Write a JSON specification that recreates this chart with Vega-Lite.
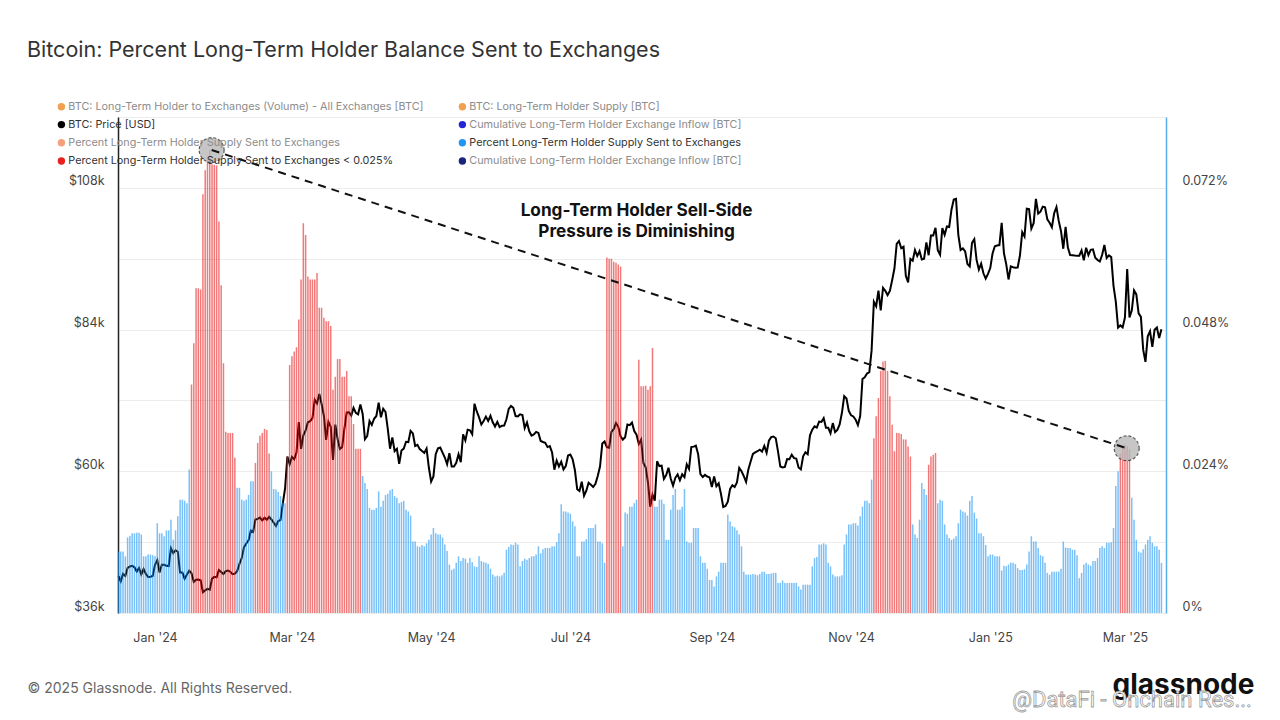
{
  "$schema": "https://vega.github.io/schema/vega-lite/v6.json",
  "width": 1048,
  "height": 496,
  "autosize": {"type": "none"},
  "padding": {"left": 118, "top": 117, "right": 114, "bottom": 107},
  "background": "white",
  "title": {
    "text": "Bitcoin: Percent Long-Term Holder Balance Sent to Exchanges",
    "anchor": "start",
    "frame": "group",
    "dx": -91,
    "offset": 40,
    "fontSize": 21.5,
    "fontWeight": "normal",
    "color": "#333333",
    "font": "Inter"
  },
  "config": {
    "view": {"stroke": null},
    "font": "Inter",
    "axis": {"labelFont": "Inter", "titleFont": "Inter"},
    "legend": {"labelFont": "Inter"}
  },
  "datasets": {
    "lth": [
      {"date":"2023-12-16","price":42240,"pct":0.0104,"red":0},
      {"date":"2023-12-17","price":41364,"pct":0.0104,"red":0},
      {"date":"2023-12-18","price":42623,"pct":0.0104,"red":0},
      {"date":"2023-12-19","price":42270,"pct":0.0096,"red":0},
      {"date":"2023-12-20","price":43652,"pct":0.0128,"red":0},
      {"date":"2023-12-21","price":43869,"pct":0.0131,"red":0},
      {"date":"2023-12-22","price":43997,"pct":0.0135,"red":0},
      {"date":"2023-12-23","price":43739,"pct":0.0135,"red":0},
      {"date":"2023-12-24","price":43016,"pct":0.0136,"red":0},
      {"date":"2023-12-25","price":43613,"pct":0.0136,"red":0},
      {"date":"2023-12-26","price":42520,"pct":0.0133,"red":0},
      {"date":"2023-12-27","price":43442,"pct":0.0096,"red":0},
      {"date":"2023-12-28","price":42627,"pct":0.0096,"red":0},
      {"date":"2023-12-29","price":42099,"pct":0.0099,"red":0},
      {"date":"2023-12-30","price":42156,"pct":0.0099,"red":0},
      {"date":"2023-12-31","price":42265,"pct":0.0098,"red":0},
      {"date":"2024-01-01","price":44167,"pct":0.0096,"red":0},
      {"date":"2024-01-02","price":44958,"pct":0.0152,"red":0},
      {"date":"2024-01-03","price":42848,"pct":0.0135,"red":0},
      {"date":"2024-01-04","price":44179,"pct":0.0135,"red":0},
      {"date":"2024-01-05","price":44162,"pct":0.013,"red":0},
      {"date":"2024-01-06","price":43989,"pct":0.014,"red":0},
      {"date":"2024-01-07","price":43943,"pct":0.014,"red":0},
      {"date":"2024-01-08","price":46970,"pct":0.0158,"red":0},
      {"date":"2024-01-09","price":46139,"pct":0.0124,"red":0},
      {"date":"2024-01-10","price":46627,"pct":0.014,"red":0},
      {"date":"2024-01-11","price":46368,"pct":0.0164,"red":0},
      {"date":"2024-01-12","price":42853,"pct":0.0192,"red":0},
      {"date":"2024-01-13","price":42842,"pct":0.0192,"red":0},
      {"date":"2024-01-14","price":41797,"pct":0.019,"red":0},
      {"date":"2024-01-15","price":42511,"pct":0.0186,"red":0},
      {"date":"2024-01-16","price":43154,"pct":0.0243,"red":0},
      {"date":"2024-01-17","price":42742,"pct":0.0387,"red":1},
      {"date":"2024-01-18","price":41262,"pct":0.0457,"red":1},
      {"date":"2024-01-19","price":41619,"pct":0.055,"red":1},
      {"date":"2024-01-20","price":41665,"pct":0.055,"red":1},
      {"date":"2024-01-21","price":41545,"pct":0.0548,"red":1},
      {"date":"2024-01-22","price":39507,"pct":0.0709,"red":1},
      {"date":"2024-01-23","price":39845,"pct":0.075,"red":1},
      {"date":"2024-01-24","price":40077,"pct":0.0767,"red":1},
      {"date":"2024-01-25","price":39934,"pct":0.0784,"red":1},
      {"date":"2024-01-26","price":41816,"pct":0.076,"red":1},
      {"date":"2024-01-27","price":42120,"pct":0.0759,"red":1},
      {"date":"2024-01-28","price":42035,"pct":0.0758,"red":1},
      {"date":"2024-01-29","price":43289,"pct":0.0663,"red":1},
      {"date":"2024-01-30","price":42952,"pct":0.0555,"red":1},
      {"date":"2024-01-31","price":42582,"pct":0.0423,"red":1},
      {"date":"2024-02-01","price":43075,"pct":0.0307,"red":1},
      {"date":"2024-02-02","price":43185,"pct":0.0305,"red":1},
      {"date":"2024-02-03","price":42992,"pct":0.0305,"red":1},
      {"date":"2024-02-04","price":42583,"pct":0.0305,"red":1},
      {"date":"2024-02-05","price":42658,"pct":0.0263,"red":1},
      {"date":"2024-02-06","price":43084,"pct":0.0212,"red":0},
      {"date":"2024-02-07","price":44319,"pct":0.0212,"red":0},
      {"date":"2024-02-08","price":45301,"pct":0.0192,"red":0},
      {"date":"2024-02-09","price":47147,"pct":0.019,"red":0},
      {"date":"2024-02-10","price":47771,"pct":0.0192,"red":0},
      {"date":"2024-02-11","price":48293,"pct":0.02,"red":0},
      {"date":"2024-02-12","price":49958,"pct":0.0223,"red":0},
      {"date":"2024-02-13","price":49743,"pct":0.0223,"red":0},
      {"date":"2024-02-14","price":51826,"pct":0.0254,"red":1},
      {"date":"2024-02-15","price":51938,"pct":0.0288,"red":1},
      {"date":"2024-02-16","price":52160,"pct":0.03,"red":1},
      {"date":"2024-02-17","price":51663,"pct":0.0305,"red":1},
      {"date":"2024-02-18","price":52122,"pct":0.0312,"red":1},
      {"date":"2024-02-19","price":51779,"pct":0.031,"red":1},
      {"date":"2024-02-20","price":52284,"pct":0.027,"red":1},
      {"date":"2024-02-21","price":51839,"pct":0.024,"red":0},
      {"date":"2024-02-22","price":51304,"pct":0.021,"red":0},
      {"date":"2024-02-23","price":50731,"pct":0.0209,"red":0},
      {"date":"2024-02-24","price":51571,"pct":0.0205,"red":0},
      {"date":"2024-02-25","price":51733,"pct":0.0198,"red":0},
      {"date":"2024-02-26","price":54522,"pct":0.0187,"red":0},
      {"date":"2024-02-27","price":57085,"pct":0.0186,"red":0},
      {"date":"2024-02-28","price":62504,"pct":0.0265,"red":1},
      {"date":"2024-02-29","price":61198,"pct":0.042,"red":1},
      {"date":"2024-03-01","price":62440,"pct":0.0435,"red":1},
      {"date":"2024-03-02","price":62029,"pct":0.0443,"red":1},
      {"date":"2024-03-03","price":63167,"pct":0.045,"red":1},
      {"date":"2024-03-04","price":68330,"pct":0.0497,"red":1},
      {"date":"2024-03-05","price":63801,"pct":0.0565,"red":1},
      {"date":"2024-03-06","price":66106,"pct":0.066,"red":1},
      {"date":"2024-03-07","price":66925,"pct":0.064,"red":1},
      {"date":"2024-03-08","price":68300,"pct":0.057,"red":1},
      {"date":"2024-03-09","price":68498,"pct":0.0565,"red":1},
      {"date":"2024-03-10","price":69019,"pct":0.0565,"red":1},
      {"date":"2024-03-11","price":72123,"pct":0.0565,"red":1},
      {"date":"2024-03-12","price":71481,"pct":0.0576,"red":1},
      {"date":"2024-03-13","price":73083,"pct":0.0517,"red":1},
      {"date":"2024-03-14","price":71397,"pct":0.0517,"red":1},
      {"date":"2024-03-15","price":69403,"pct":0.05,"red":1},
      {"date":"2024-03-16","price":65315,"pct":0.0494,"red":1},
      {"date":"2024-03-17","price":68391,"pct":0.0494,"red":1},
      {"date":"2024-03-18","price":67548,"pct":0.0486,"red":1},
      {"date":"2024-03-19","price":61912,"pct":0.0378,"red":1},
      {"date":"2024-03-20","price":67913,"pct":0.04,"red":1},
      {"date":"2024-03-21","price":65491,"pct":0.043,"red":1},
      {"date":"2024-03-22","price":63779,"pct":0.043,"red":1},
      {"date":"2024-03-23","price":64062,"pct":0.04,"red":1},
      {"date":"2024-03-24","price":67234,"pct":0.04,"red":1},
      {"date":"2024-03-25","price":69958,"pct":0.041,"red":1},
      {"date":"2024-03-26","price":69987,"pct":0.0367,"red":1},
      {"date":"2024-03-27","price":69455,"pct":0.0367,"red":1},
      {"date":"2024-03-28","price":70744,"pct":0.032,"red":1},
      {"date":"2024-03-29","price":69892,"pct":0.0278,"red":1},
      {"date":"2024-03-30","price":69645,"pct":0.0278,"red":1},
      {"date":"2024-03-31","price":71333,"pct":0.0278,"red":1},
      {"date":"2024-04-01","price":69702,"pct":0.0232,"red":0},
      {"date":"2024-04-02","price":65446,"pct":0.022,"red":0},
      {"date":"2024-04-03","price":65980,"pct":0.021,"red":0},
      {"date":"2024-04-04","price":68508,"pct":0.0178,"red":0},
      {"date":"2024-04-05","price":67837,"pct":0.0175,"red":0},
      {"date":"2024-04-06","price":68896,"pct":0.0175,"red":0},
      {"date":"2024-04-07","price":69362,"pct":0.0178,"red":0},
      {"date":"2024-04-08","price":71631,"pct":0.0206,"red":0},
      {"date":"2024-04-09","price":69139,"pct":0.018,"red":0},
      {"date":"2024-04-10","price":70587,"pct":0.019,"red":0},
      {"date":"2024-04-11","price":70060,"pct":0.02,"red":0},
      {"date":"2024-04-12","price":67195,"pct":0.0202,"red":0},
      {"date":"2024-04-13","price":63821,"pct":0.0208,"red":0},
      {"date":"2024-04-14","price":65738,"pct":0.021,"red":0},
      {"date":"2024-04-15","price":63426,"pct":0.0198,"red":0},
      {"date":"2024-04-16","price":63811,"pct":0.0195,"red":0},
      {"date":"2024-04-17","price":61276,"pct":0.0186,"red":0},
      {"date":"2024-04-18","price":63512,"pct":0.0188,"red":0},
      {"date":"2024-04-19","price":63843,"pct":0.019,"red":0},
      {"date":"2024-04-20","price":64994,"pct":0.0175,"red":0},
      {"date":"2024-04-21","price":64927,"pct":0.0172,"red":0},
      {"date":"2024-04-22","price":66837,"pct":0.0165,"red":0},
      {"date":"2024-04-23","price":66408,"pct":0.0121,"red":0},
      {"date":"2024-04-24","price":64276,"pct":0.0121,"red":0},
      {"date":"2024-04-25","price":64481,"pct":0.0113,"red":0},
      {"date":"2024-04-26","price":63756,"pct":0.0112,"red":0},
      {"date":"2024-04-27","price":63419,"pct":0.0115,"red":0},
      {"date":"2024-04-28","price":63113,"pct":0.0113,"red":0},
      {"date":"2024-04-29","price":63841,"pct":0.0118,"red":0},
      {"date":"2024-04-30","price":60636,"pct":0.0124,"red":0},
      {"date":"2024-05-01","price":58254,"pct":0.0133,"red":0},
      {"date":"2024-05-02","price":59123,"pct":0.0144,"red":0},
      {"date":"2024-05-03","price":62889,"pct":0.0135,"red":0},
      {"date":"2024-05-04","price":63891,"pct":0.0133,"red":0},
      {"date":"2024-05-05","price":64031,"pct":0.0133,"red":0},
      {"date":"2024-05-06","price":63161,"pct":0.0128,"red":0},
      {"date":"2024-05-07","price":62334,"pct":0.0116,"red":0},
      {"date":"2024-05-08","price":61187,"pct":0.0105,"red":0},
      {"date":"2024-05-09","price":63049,"pct":0.0082,"red":0},
      {"date":"2024-05-10","price":60792,"pct":0.0073,"red":0},
      {"date":"2024-05-11","price":60793,"pct":0.0075,"red":0},
      {"date":"2024-05-12","price":61448,"pct":0.0085,"red":0},
      {"date":"2024-05-13","price":62901,"pct":0.0096,"red":0},
      {"date":"2024-05-14","price":61553,"pct":0.0088,"red":0},
      {"date":"2024-05-15","price":66267,"pct":0.0093,"red":0},
      {"date":"2024-05-16","price":65231,"pct":0.0092,"red":0},
      {"date":"2024-05-17","price":67051,"pct":0.0085,"red":0},
      {"date":"2024-05-18","price":66940,"pct":0.0093,"red":0},
      {"date":"2024-05-19","price":66278,"pct":0.0086,"red":0},
      {"date":"2024-05-20","price":71448,"pct":0.0079,"red":0},
      {"date":"2024-05-21","price":70136,"pct":0.0078,"red":0},
      {"date":"2024-05-22","price":69122,"pct":0.0096,"red":0},
      {"date":"2024-05-23","price":67929,"pct":0.0088,"red":0},
      {"date":"2024-05-24","price":68526,"pct":0.0086,"red":0},
      {"date":"2024-05-25","price":69265,"pct":0.0085,"red":0},
      {"date":"2024-05-26","price":68518,"pct":0.0083,"red":0},
      {"date":"2024-05-27","price":69394,"pct":0.0075,"red":0},
      {"date":"2024-05-28","price":68296,"pct":0.0065,"red":0},
      {"date":"2024-05-29","price":67578,"pct":0.0062,"red":0},
      {"date":"2024-05-30","price":68364,"pct":0.0063,"red":0},
      {"date":"2024-05-31","price":67491,"pct":0.0062,"red":0},
      {"date":"2024-06-01","price":67706,"pct":0.0064,"red":0},
      {"date":"2024-06-02","price":67751,"pct":0.0068,"red":0},
      {"date":"2024-06-03","price":68804,"pct":0.0107,"red":0},
      {"date":"2024-06-04","price":70567,"pct":0.0112,"red":0},
      {"date":"2024-06-05","price":71082,"pct":0.0116,"red":0},
      {"date":"2024-06-06","price":70757,"pct":0.0115,"red":0},
      {"date":"2024-06-07","price":69342,"pct":0.0119,"red":0},
      {"date":"2024-06-08","price":69305,"pct":0.0116,"red":0},
      {"date":"2024-06-09","price":69648,"pct":0.0079,"red":0},
      {"date":"2024-06-10","price":69540,"pct":0.0088,"red":0},
      {"date":"2024-06-11","price":67314,"pct":0.0092,"red":0},
      {"date":"2024-06-12","price":68263,"pct":0.009,"red":0},
      {"date":"2024-06-13","price":66773,"pct":0.0093,"red":0},
      {"date":"2024-06-14","price":66043,"pct":0.0096,"red":0},
      {"date":"2024-06-15","price":66228,"pct":0.0096,"red":0},
      {"date":"2024-06-16","price":66677,"pct":0.0099,"red":0},
      {"date":"2024-06-17","price":66490,"pct":0.0113,"red":0},
      {"date":"2024-06-18","price":65140,"pct":0.0101,"red":0},
      {"date":"2024-06-19","price":64961,"pct":0.0108,"red":0},
      {"date":"2024-06-20","price":64828,"pct":0.011,"red":0},
      {"date":"2024-06-21","price":64096,"pct":0.011,"red":0},
      {"date":"2024-06-22","price":64253,"pct":0.011,"red":0},
      {"date":"2024-06-23","price":63180,"pct":0.0113,"red":0},
      {"date":"2024-06-24","price":60277,"pct":0.0113,"red":0},
      {"date":"2024-06-25","price":61804,"pct":0.012,"red":0},
      {"date":"2024-06-26","price":60811,"pct":0.0135,"red":0},
      {"date":"2024-06-27","price":61604,"pct":0.0184,"red":0},
      {"date":"2024-06-28","price":60320,"pct":0.0172,"red":0},
      {"date":"2024-06-29","price":60887,"pct":0.0172,"red":0},
      {"date":"2024-06-30","price":62678,"pct":0.017,"red":0},
      {"date":"2024-07-01","price":62851,"pct":0.0168,"red":0},
      {"date":"2024-07-02","price":62029,"pct":0.0155,"red":0},
      {"date":"2024-07-03","price":60173,"pct":0.0147,"red":0},
      {"date":"2024-07-04","price":56977,"pct":0.0096,"red":0},
      {"date":"2024-07-05","price":56662,"pct":0.0096,"red":0},
      {"date":"2024-07-06","price":58231,"pct":0.0121,"red":0},
      {"date":"2024-07-07","price":55857,"pct":0.0121,"red":0},
      {"date":"2024-07-08","price":56714,"pct":0.0125,"red":0},
      {"date":"2024-07-09","price":58052,"pct":0.0144,"red":0},
      {"date":"2024-07-10","price":57725,"pct":0.0144,"red":0},
      {"date":"2024-07-11","price":57339,"pct":0.0144,"red":0},
      {"date":"2024-07-12","price":57889,"pct":0.015,"red":0},
      {"date":"2024-07-13","price":59204,"pct":0.0121,"red":0},
      {"date":"2024-07-14","price":60797,"pct":0.0121,"red":0},
      {"date":"2024-07-15","price":64725,"pct":0.0118,"red":0},
      {"date":"2024-07-16","price":65043,"pct":0.0085,"red":0},
      {"date":"2024-07-17","price":64087,"pct":0.0602,"red":1},
      {"date":"2024-07-18","price":63987,"pct":0.06,"red":1},
      {"date":"2024-07-19","price":66661,"pct":0.06,"red":1},
      {"date":"2024-07-20","price":67140,"pct":0.0595,"red":1},
      {"date":"2024-07-21","price":68166,"pct":0.0593,"red":1},
      {"date":"2024-07-22","price":67532,"pct":0.059,"red":1},
      {"date":"2024-07-23","price":65936,"pct":0.0587,"red":1},
      {"date":"2024-07-24","price":65372,"pct":0.0113,"red":0},
      {"date":"2024-07-25","price":65777,"pct":0.017,"red":0},
      {"date":"2024-07-26","price":67912,"pct":0.0168,"red":0},
      {"date":"2024-07-27","price":67813,"pct":0.018,"red":0},
      {"date":"2024-07-28","price":68255,"pct":0.018,"red":0},
      {"date":"2024-07-29","price":66819,"pct":0.0186,"red":0},
      {"date":"2024-07-30","price":66201,"pct":0.0192,"red":0},
      {"date":"2024-07-31","price":64620,"pct":0.0429,"red":1},
      {"date":"2024-08-01","price":65357,"pct":0.0384,"red":1},
      {"date":"2024-08-02","price":61415,"pct":0.0384,"red":1},
      {"date":"2024-08-03","price":60680,"pct":0.0385,"red":1},
      {"date":"2024-08-04","price":58116,"pct":0.0378,"red":1},
      {"date":"2024-08-05","price":53991,"pct":0.0384,"red":1},
      {"date":"2024-08-06","price":56034,"pct":0.0449,"red":1},
      {"date":"2024-08-07","price":55027,"pct":0.018,"red":0},
      {"date":"2024-08-08","price":61710,"pct":0.018,"red":0},
      {"date":"2024-08-09","price":60880,"pct":0.0192,"red":0},
      {"date":"2024-08-10","price":60945,"pct":0.0192,"red":0},
      {"date":"2024-08-11","price":58719,"pct":0.0185,"red":0},
      {"date":"2024-08-12","price":59354,"pct":0.0124,"red":0},
      {"date":"2024-08-13","price":60610,"pct":0.0124,"red":0},
      {"date":"2024-08-14","price":58737,"pct":0.0175,"red":0},
      {"date":"2024-08-15","price":57560,"pct":0.02,"red":0},
      {"date":"2024-08-16","price":58894,"pct":0.021,"red":0},
      {"date":"2024-08-17","price":59478,"pct":0.0175,"red":0},
      {"date":"2024-08-18","price":58483,"pct":0.0175,"red":0},
      {"date":"2024-08-19","price":59493,"pct":0.018,"red":0},
      {"date":"2024-08-20","price":59012,"pct":0.021,"red":0},
      {"date":"2024-08-21","price":61175,"pct":0.0121,"red":0},
      {"date":"2024-08-22","price":60381,"pct":0.0119,"red":0},
      {"date":"2024-08-23","price":64094,"pct":0.0119,"red":0},
      {"date":"2024-08-24","price":64178,"pct":0.0144,"red":0},
      {"date":"2024-08-25","price":64333,"pct":0.0144,"red":0},
      {"date":"2024-08-26","price":62880,"pct":0.0144,"red":0},
      {"date":"2024-08-27","price":59504,"pct":0.0096,"red":0},
      {"date":"2024-08-28","price":59027,"pct":0.0085,"red":0},
      {"date":"2024-08-29","price":59388,"pct":0.0085,"red":0},
      {"date":"2024-08-30","price":59119,"pct":0.0075,"red":0},
      {"date":"2024-08-31","price":58969,"pct":0.0056,"red":0},
      {"date":"2024-09-01","price":57326,"pct":0.0056,"red":0},
      {"date":"2024-09-02","price":59113,"pct":0.0045,"red":0},
      {"date":"2024-09-03","price":57484,"pct":0.0062,"red":0},
      {"date":"2024-09-04","price":57971,"pct":0.007,"red":0},
      {"date":"2024-09-05","price":56160,"pct":0.0085,"red":0},
      {"date":"2024-09-06","price":53949,"pct":0.0085,"red":0},
      {"date":"2024-09-07","price":54140,"pct":0.0085,"red":0},
      {"date":"2024-09-08","price":54842,"pct":0.0167,"red":0},
      {"date":"2024-09-09","price":57019,"pct":0.0155,"red":0},
      {"date":"2024-09-10","price":57648,"pct":0.0147,"red":0},
      {"date":"2024-09-11","price":57343,"pct":0.0145,"red":0},
      {"date":"2024-09-12","price":58127,"pct":0.014,"red":0},
      {"date":"2024-09-13","price":60571,"pct":0.0133,"red":0},
      {"date":"2024-09-14","price":60005,"pct":0.0113,"red":0},
      {"date":"2024-09-15","price":59182,"pct":0.007,"red":0},
      {"date":"2024-09-16","price":58192,"pct":0.0065,"red":0},
      {"date":"2024-09-17","price":60309,"pct":0.0065,"red":0},
      {"date":"2024-09-18","price":61649,"pct":0.0065,"red":0},
      {"date":"2024-09-19","price":62940,"pct":0.0066,"red":0},
      {"date":"2024-09-20","price":63192,"pct":0.0065,"red":0},
      {"date":"2024-09-21","price":63394,"pct":0.0064,"red":0},
      {"date":"2024-09-22","price":63648,"pct":0.0066,"red":0},
      {"date":"2024-09-23","price":63329,"pct":0.007,"red":0},
      {"date":"2024-09-24","price":64301,"pct":0.007,"red":0},
      {"date":"2024-09-25","price":63144,"pct":0.0066,"red":0},
      {"date":"2024-09-26","price":65181,"pct":0.0066,"red":0},
      {"date":"2024-09-27","price":65790,"pct":0.0067,"red":0},
      {"date":"2024-09-28","price":65888,"pct":0.0068,"red":0},
      {"date":"2024-09-29","price":65603,"pct":0.0068,"red":0},
      {"date":"2024-09-30","price":63327,"pct":0.0051,"red":0},
      {"date":"2024-10-01","price":60805,"pct":0.0051,"red":0},
      {"date":"2024-10-02","price":60649,"pct":0.0055,"red":0},
      {"date":"2024-10-03","price":60752,"pct":0.0051,"red":0},
      {"date":"2024-10-04","price":62086,"pct":0.0051,"red":0},
      {"date":"2024-10-05","price":62058,"pct":0.0051,"red":0},
      {"date":"2024-10-06","price":62819,"pct":0.0051,"red":0},
      {"date":"2024-10-07","price":62224,"pct":0.0051,"red":0},
      {"date":"2024-10-08","price":62160,"pct":0.0051,"red":0},
      {"date":"2024-10-09","price":60636,"pct":0.0045,"red":0},
      {"date":"2024-10-10","price":60327,"pct":0.004,"red":0},
      {"date":"2024-10-11","price":62540,"pct":0.0048,"red":0},
      {"date":"2024-10-12","price":63206,"pct":0.0048,"red":0},
      {"date":"2024-10-13","price":62870,"pct":0.0048,"red":0},
      {"date":"2024-10-14","price":66083,"pct":0.0048,"red":0},
      {"date":"2024-10-15","price":67042,"pct":0.0079,"red":0},
      {"date":"2024-10-16","price":67612,"pct":0.0093,"red":0},
      {"date":"2024-10-17","price":67399,"pct":0.0095,"red":0},
      {"date":"2024-10-18","price":68418,"pct":0.0116,"red":0},
      {"date":"2024-10-19","price":68362,"pct":0.0116,"red":0},
      {"date":"2024-10-20","price":69002,"pct":0.0118,"red":0},
      {"date":"2024-10-21","price":67367,"pct":0.0116,"red":0},
      {"date":"2024-10-22","price":67362,"pct":0.0085,"red":0},
      {"date":"2024-10-23","price":66432,"pct":0.0079,"red":0},
      {"date":"2024-10-24","price":68161,"pct":0.0065,"red":0},
      {"date":"2024-10-25","price":66642,"pct":0.0062,"red":0},
      {"date":"2024-10-26","price":67014,"pct":0.0062,"red":0},
      {"date":"2024-10-27","price":67929,"pct":0.0062,"red":0},
      {"date":"2024-10-28","price":69908,"pct":0.0064,"red":0},
      {"date":"2024-10-29","price":72720,"pct":0.0116,"red":0},
      {"date":"2024-10-30","price":72339,"pct":0.0133,"red":0},
      {"date":"2024-10-31","price":70215,"pct":0.015,"red":0},
      {"date":"2024-11-01","price":69482,"pct":0.015,"red":0},
      {"date":"2024-11-02","price":69289,"pct":0.0152,"red":0},
      {"date":"2024-11-03","price":68741,"pct":0.0152,"red":0},
      {"date":"2024-11-04","price":67811,"pct":0.0148,"red":0},
      {"date":"2024-11-05","price":69359,"pct":0.0164,"red":0},
      {"date":"2024-11-06","price":75639,"pct":0.018,"red":0},
      {"date":"2024-11-07","price":75904,"pct":0.019,"red":0},
      {"date":"2024-11-08","price":76545,"pct":0.019,"red":0},
      {"date":"2024-11-09","price":76778,"pct":0.0186,"red":0},
      {"date":"2024-11-10","price":80474,"pct":0.0226,"red":0},
      {"date":"2024-11-11","price":88701,"pct":0.0296,"red":1},
      {"date":"2024-11-12","price":87955,"pct":0.0333,"red":1},
      {"date":"2024-11-13","price":90585,"pct":0.0364,"red":1},
      {"date":"2024-11-14","price":87250,"pct":0.041,"red":1},
      {"date":"2024-11-15","price":91066,"pct":0.0426,"red":1},
      {"date":"2024-11-16","price":90558,"pct":0.0427,"red":1},
      {"date":"2024-11-17","price":89845,"pct":0.041,"red":1},
      {"date":"2024-11-18","price":90542,"pct":0.0367,"red":1},
      {"date":"2024-11-19","price":92343,"pct":0.0319,"red":1},
      {"date":"2024-11-20","price":94339,"pct":0.0274,"red":1},
      {"date":"2024-11-21","price":98504,"pct":0.0305,"red":1},
      {"date":"2024-11-22","price":98997,"pct":0.0305,"red":1},
      {"date":"2024-11-23","price":97778,"pct":0.0303,"red":1},
      {"date":"2024-11-24","price":98014,"pct":0.0294,"red":1},
      {"date":"2024-11-25","price":93102,"pct":0.0294,"red":1},
      {"date":"2024-11-26","price":91986,"pct":0.0282,"red":1},
      {"date":"2024-11-27","price":95963,"pct":0.0265,"red":1},
      {"date":"2024-11-28","price":95652,"pct":0.015,"red":0},
      {"date":"2024-11-29","price":97461,"pct":0.0133,"red":0},
      {"date":"2024-11-30","price":96450,"pct":0.0127,"red":0},
      {"date":"2024-12-01","price":97279,"pct":0.0158,"red":0},
      {"date":"2024-12-02","price":95865,"pct":0.022,"red":0},
      {"date":"2024-12-03","price":96003,"pct":0.021,"red":0},
      {"date":"2024-12-04","price":98768,"pct":0.02,"red":0},
      {"date":"2024-12-05","price":96593,"pct":0.0251,"red":1},
      {"date":"2024-12-06","price":99921,"pct":0.0265,"red":1},
      {"date":"2024-12-07","price":99923,"pct":0.0268,"red":1},
      {"date":"2024-12-08","price":101237,"pct":0.0271,"red":1},
      {"date":"2024-12-09","price":97432,"pct":0.0186,"red":0},
      {"date":"2024-12-10","price":96675,"pct":0.0192,"red":0},
      {"date":"2024-12-11","price":101173,"pct":0.019,"red":0},
      {"date":"2024-12-12","price":100044,"pct":0.015,"red":0},
      {"date":"2024-12-13","price":101460,"pct":0.0133,"red":0},
      {"date":"2024-12-14","price":101373,"pct":0.0127,"red":0},
      {"date":"2024-12-15","price":104298,"pct":0.0124,"red":0},
      {"date":"2024-12-16","price":106030,"pct":0.0126,"red":0},
      {"date":"2024-12-17","price":106140,"pct":0.013,"red":0},
      {"date":"2024-12-18","price":100041,"pct":0.0152,"red":0},
      {"date":"2024-12-19","price":97490,"pct":0.0175,"red":0},
      {"date":"2024-12-20","price":97756,"pct":0.0172,"red":0},
      {"date":"2024-12-21","price":97225,"pct":0.017,"red":0},
      {"date":"2024-12-22","price":95105,"pct":0.0165,"red":0},
      {"date":"2024-12-23","price":94687,"pct":0.019,"red":0},
      {"date":"2024-12-24","price":98676,"pct":0.0198,"red":0},
      {"date":"2024-12-25","price":99299,"pct":0.017,"red":0},
      {"date":"2024-12-26","price":95795,"pct":0.016,"red":0},
      {"date":"2024-12-27","price":94164,"pct":0.0135,"red":0},
      {"date":"2024-12-28","price":95163,"pct":0.0135,"red":0},
      {"date":"2024-12-29","price":93530,"pct":0.013,"red":0},
      {"date":"2024-12-30","price":92643,"pct":0.0115,"red":0},
      {"date":"2024-12-31","price":93429,"pct":0.0096,"red":0},
      {"date":"2025-01-01","price":94419,"pct":0.0099,"red":0},
      {"date":"2025-01-02","price":96887,"pct":0.0099,"red":0},
      {"date":"2025-01-03","price":98107,"pct":0.0096,"red":0},
      {"date":"2025-01-04","price":98237,"pct":0.0096,"red":0},
      {"date":"2025-01-05","price":98315,"pct":0.0096,"red":0},
      {"date":"2025-01-06","price":102078,"pct":0.0072,"red":0},
      {"date":"2025-01-07","price":96923,"pct":0.008,"red":0},
      {"date":"2025-01-08","price":95043,"pct":0.0079,"red":0},
      {"date":"2025-01-09","price":92485,"pct":0.0082,"red":0},
      {"date":"2025-01-10","price":94702,"pct":0.0085,"red":0},
      {"date":"2025-01-11","price":94566,"pct":0.0085,"red":0},
      {"date":"2025-01-12","price":94488,"pct":0.0083,"red":0},
      {"date":"2025-01-13","price":94516,"pct":0.0076,"red":0},
      {"date":"2025-01-14","price":96534,"pct":0.0073,"red":0},
      {"date":"2025-01-15","price":100504,"pct":0.0073,"red":0},
      {"date":"2025-01-16","price":99756,"pct":0.0074,"red":0},
      {"date":"2025-01-17","price":104462,"pct":0.0082,"red":0},
      {"date":"2025-01-18","price":104408,"pct":0.0104,"red":0},
      {"date":"2025-01-19","price":101089,"pct":0.013,"red":0},
      {"date":"2025-01-20","price":102016,"pct":0.0121,"red":0},
      {"date":"2025-01-21","price":106146,"pct":0.0121,"red":0},
      {"date":"2025-01-22","price":103653,"pct":0.011,"red":0},
      {"date":"2025-01-23","price":103960,"pct":0.0098,"red":0},
      {"date":"2025-01-24","price":104819,"pct":0.0096,"red":0},
      {"date":"2025-01-25","price":104715,"pct":0.0085,"red":0},
      {"date":"2025-01-26","price":102682,"pct":0.0068,"red":0},
      {"date":"2025-01-27","price":102088,"pct":0.0065,"red":0},
      {"date":"2025-01-28","price":101332,"pct":0.007,"red":0},
      {"date":"2025-01-29","price":103703,"pct":0.007,"red":0},
      {"date":"2025-01-30","price":104736,"pct":0.007,"red":0},
      {"date":"2025-01-31","price":102405,"pct":0.007,"red":0},
      {"date":"2025-02-01","price":100655,"pct":0.0075,"red":0},
      {"date":"2025-02-02","price":97688,"pct":0.0121,"red":0},
      {"date":"2025-02-03","price":101406,"pct":0.0111,"red":0},
      {"date":"2025-02-04","price":97871,"pct":0.011,"red":0},
      {"date":"2025-02-05","price":96616,"pct":0.011,"red":0},
      {"date":"2025-02-06","price":96593,"pct":0.0107,"red":0},
      {"date":"2025-02-07","price":96529,"pct":0.0107,"red":0},
      {"date":"2025-02-08","price":96482,"pct":0.0098,"red":0},
      {"date":"2025-02-09","price":96500,"pct":0.0059,"red":0},
      {"date":"2025-02-10","price":97395,"pct":0.0068,"red":0},
      {"date":"2025-02-11","price":95748,"pct":0.0082,"red":0},
      {"date":"2025-02-12","price":97869,"pct":0.0085,"red":0},
      {"date":"2025-02-13","price":96623,"pct":0.0082,"red":0},
      {"date":"2025-02-14","price":97509,"pct":0.008,"red":0},
      {"date":"2025-02-15","price":97581,"pct":0.0088,"red":0},
      {"date":"2025-02-16","price":96176,"pct":0.0088,"red":0},
      {"date":"2025-02-17","price":95773,"pct":0.0093,"red":0},
      {"date":"2025-02-18","price":95539,"pct":0.011,"red":0},
      {"date":"2025-02-19","price":96635,"pct":0.0113,"red":0},
      {"date":"2025-02-20","price":98333,"pct":0.011,"red":0},
      {"date":"2025-02-21","price":96125,"pct":0.0119,"red":0},
      {"date":"2025-02-22","price":96577,"pct":0.0119,"red":0},
      {"date":"2025-02-23","price":96273,"pct":0.012,"red":0},
      {"date":"2025-02-24","price":91418,"pct":0.0144,"red":0},
      {"date":"2025-02-25","price":88736,"pct":0.0215,"red":0},
      {"date":"2025-02-26","price":84347,"pct":0.024,"red":0},
      {"date":"2025-02-27","price":84704,"pct":0.027,"red":1},
      {"date":"2025-02-28","price":84373,"pct":0.0282,"red":1},
      {"date":"2025-03-01","price":86031,"pct":0.0285,"red":1},
      {"date":"2025-03-02","price":94248,"pct":0.0283,"red":1},
      {"date":"2025-03-03","price":86065,"pct":0.0277,"red":1},
      {"date":"2025-03-04","price":87222,"pct":0.0195,"red":0},
      {"date":"2025-03-05","price":90623,"pct":0.0158,"red":0},
      {"date":"2025-03-06","price":89961,"pct":0.0124,"red":0},
      {"date":"2025-03-07","price":86742,"pct":0.0104,"red":0},
      {"date":"2025-03-08","price":86154,"pct":0.0102,"red":0},
      {"date":"2025-03-09","price":80601,"pct":0.0108,"red":0},
      {"date":"2025-03-10","price":78533,"pct":0.0116,"red":0},
      {"date":"2025-03-11","price":82862,"pct":0.0124,"red":0},
      {"date":"2025-03-12","price":83722,"pct":0.013,"red":0},
      {"date":"2025-03-13","price":81066,"pct":0.0119,"red":0},
      {"date":"2025-03-14","price":83969,"pct":0.0113,"red":0},
      {"date":"2025-03-15","price":84343,"pct":0.0113,"red":0},
      {"date":"2025-03-16","price":82577,"pct":0.0107,"red":0},
      {"date":"2025-03-17","price":84075,"pct":0.0085,"red":0}
    ],
    "trend": [
      {"date":"2024-01-25T20:00:00Z","pct":0.0784},
      {"date":"2025-03-01T19:00:00Z","pct":0.0279}
    ],
    "note": [
      {"date":"2024-07-30","price":104000,"label":"Long-Term Holder Sell-Side\nPressure is Diminishing"}
    ],
    "credit": [
      {"date":"2025-03-04T03:00:00Z","price":21300,"label":"@DataFi - Onchain Res..."}
    ]
  },
  "data": {"name": "lth"},
  "layer": [
    {
      "layer": [
        {
          "mark": {"type": "line", "color": "#000000", "strokeWidth": 2},
          "encoding": {
            "x": {
              "field": "date",
              "type": "temporal",
              "title": "© 2025 Glassnode. All Rights Reserved.",
              "scale": {
                "type": "utc",
                "padding": 0,
                "domain": [
                  {"year": 2023, "month": 12, "date": 15, "hours": 19, "utc": true},
                  {"year": 2025, "month": 3, "date": 19, "utc": true}
                ]
              },
              "axis": {
                "values": [
                  {"year": 2024, "month": 1, "date": 1, "utc": true},
                  {"year": 2024, "month": 3, "date": 1, "utc": true},
                  {"year": 2024, "month": 5, "date": 1, "utc": true},
                  {"year": 2024, "month": 7, "date": 1, "utc": true},
                  {"year": 2024, "month": 9, "date": 1, "utc": true},
                  {"year": 2024, "month": 11, "date": 1, "utc": true},
                  {"year": 2025, "month": 1, "date": 1, "utc": true},
                  {"year": 2025, "month": 3, "date": 1, "utc": true}
                ],
                "labelExpr": "utcFormat(datum.value, \"%b '%y\")",
                "domain": false,
                "ticks": false,
                "grid": false,
                "labelPadding": 18,
                "labelFontSize": 12.5,
                "labelColor": "#444444",
                "titleX": -91,
                "titleY": 75,
                "titleAlign": "left",
                "titleAnchor": "start",
                "titleBaseline": "middle",
                "titleFontSize": 14,
                "titleFontWeight": "normal",
                "titleColor": "#666666"
              }
            },
            "y": {
              "field": "price",
              "type": "quantitative",
              "title": null,
              "scale": {"domain": [36000, 120000], "nice": false, "zero": false},
              "axis": {
                "orient": "left",
                "values": [36000, 48000, 60000, 72000, 84000, 96000, 108000, 120000],
                "labelExpr": "(datum.value - 36000) % 24000 == 0 ? '$' + (datum.value / 1000) + 'k' : ''",
                "grid": true,
                "gridColor": "#ececec",
                "ticks": false,
                "domainColor": "#222222",
                "domainWidth": 1.5,
                "labelPadding": 14,
                "labelBaseline": "alphabetic",
                "labelOffset": -3,
                "labelFontSize": 12.5,
                "labelColor": "#444444"
              }
            }
          }
        },
        {
          "data": {"name": "note"},
          "mark": {"type": "text", "lineBreak": "\n", "fontSize": 17.2, "fontWeight": "bold", "align": "center", "baseline": "middle", "lineHeight": 21, "color": "#111111"},
          "encoding": {
            "x": {"field": "date", "type": "temporal", "title": "© 2025 Glassnode. All Rights Reserved."},
            "y": {"field": "price", "type": "quantitative", "title": null},
            "text": {"field": "label"}
          }
        },
        {
          "data": {"name": "credit"},
          "mark": {"type": "text", "fontSize": 22, "letterSpacing": 1.8, "align": "center", "baseline": "middle", "font": "Roboto", "fill": "#ffffff", "stroke": "#a0a0a0", "strokeWidth": 0.8},
          "encoding": {
            "x": {"field": "date", "type": "temporal", "title": "© 2025 Glassnode. All Rights Reserved."},
            "y": {"field": "price", "type": "quantitative", "title": null},
            "text": {"field": "label"}
          }
        }
      ]
    },
    {
      "layer": [
        {
          "transform": [{"filter": "datum.red == 0"}],
          "mark": {"type": "bar", "width": 1.5, "opacity": 0.6},
          "encoding": {
            "x": {"field": "date", "type": "temporal", "title": "© 2025 Glassnode. All Rights Reserved."},
            "y": {
              "field": "pct",
              "type": "quantitative",
              "title": "glassnode",
              "scale": {"domain": [0, 0.084], "nice": false},
              "axis": {
                "orient": "right",
                "values": [0, 0.024, 0.048, 0.072],
                "labelExpr": "datum.value == 0 ? '0%' : format(datum.value, '.3f') + '%'",
                "grid": false,
                "ticks": false,
                "domainColor": "#5aaee8",
                "domainWidth": 1.5,
                "labelPadding": 16,
                "labelBaseline": "alphabetic",
                "labelOffset": -3,
                "labelFontSize": 12.5,
                "labelColor": "#444444",
                "titleAngle": 0,
                "titleX": 17,
                "titleY": 568,
                "titleAlign": "center",
                "titleBaseline": "middle",
                "titleFontSize": 28,
                "titleFontWeight": "bold",
                "titleColor": "#111111"
              }
            },
            "color": {
              "datum": "Percent Long-Term Holder Supply Sent to Exchanges",
              "type": "nominal",
              "scale": {
                "domain": [
                  "BTC: Long-Term Holder to Exchanges (Volume) - All Exchanges [BTC]",
                  "BTC: Price [USD]",
                  "Percent Long-Term Holder Supply Sent to Exchanges ",
                  "Percent Long-Term Holder Supply Sent to Exchanges < 0.025%",
                  "BTC: Long-Term Holder Supply [BTC]",
                  "Cumulative Long-Term Holder Exchange Inflow [BTC]",
                  "Percent Long-Term Holder Supply Sent to Exchanges",
                  "Cumulative Long-Term Holder Exchange Inflow [BTC] "
                ],
                "range": ["#f0a050", "#000000", "#f4a07a", "#e8201f", "#f0a050", "#2424d6", "#2196f3", "#1a237e"]
              },
              "legend": {
                "orient": "none",
                "legendX": -62,
                "legendY": -16,
                "columns": 2,
                "columnPadding": 33,
                "rowPadding": 6.2,
                "title": null,
                "symbolType": "circle",
                "symbolSize": 55,
                "symbolOpacity": 1,
                "symbolStrokeWidth": 0,
                "labelFontSize": 10.8,
                "labelLimit": 420,
                "labelOffset": 1.5,
                "encode": {
                  "labels": {
                    "update": {
                      "fill": {"signal": "indexof(['BTC: Price [USD]', 'Percent Long-Term Holder Supply Sent to Exchanges', 'Percent Long-Term Holder Supply Sent to Exchanges < 0.025%'], datum.value) >= 0 ? '#333333' : '#8c8c8c'"}
                    }
                  }
                }
              }
            }
          }
        },
        {
          "transform": [{"filter": "datum.red == 1"}],
          "mark": {"type": "bar", "width": 1.5, "opacity": 0.6},
          "encoding": {
            "x": {"field": "date", "type": "temporal", "title": "© 2025 Glassnode. All Rights Reserved."},
            "y": {"field": "pct", "type": "quantitative", "title": "glassnode"},
            "color": {"datum": "Percent Long-Term Holder Supply Sent to Exchanges < 0.025%", "type": "nominal"}
          }
        },
        {
          "data": {"name": "trend"},
          "mark": {"type": "point", "shape": "circle", "size": 620, "filled": true, "color": "#b8b8b8", "opacity": 0.8, "stroke": "#333333", "strokeWidth": 1.2, "strokeDash": [3, 2]},
          "encoding": {
            "x": {"field": "date", "type": "temporal", "title": "© 2025 Glassnode. All Rights Reserved."},
            "y": {"field": "pct", "type": "quantitative", "title": "glassnode"}
          }
        },
        {
          "data": {"name": "trend"},
          "mark": {"type": "line", "color": "#111111", "strokeWidth": 2, "strokeDash": [8, 6]},
          "encoding": {
            "x": {"field": "date", "type": "temporal", "title": "© 2025 Glassnode. All Rights Reserved."},
            "y": {"field": "pct", "type": "quantitative", "title": "glassnode"}
          }
        }
      ]
    }
  ],
  "resolve": {"scale": {"y": "independent"}}
}
